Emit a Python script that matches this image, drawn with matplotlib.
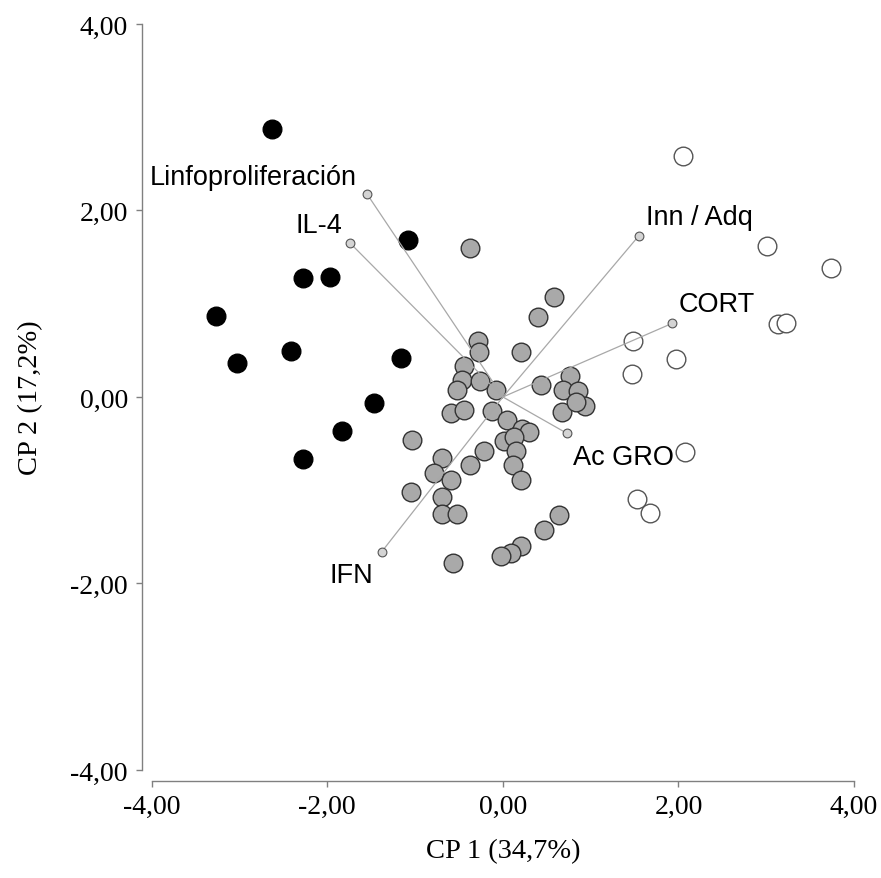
import matplotlib.pyplot as plt

# Grupo 1 (negro)
negro_x = [-2.63, -1.08, -2.28, -1.97, -3.27, -3.03, -2.41, -1.16, -1.47, -1.83, -2.28]
negro_y = [2.87, 1.68, 1.28, 1.29, 0.87, 0.36, 0.49, 0.42, -0.06, -0.36, -0.67]

# Grupo 2 (gris)
gris_x = [-0.37, 0.58, 0.40, -0.28, -0.27, 0.21, -0.44, -0.46, -0.52, -0.26,
          -0.08, 0.43, 0.77, 0.69, 0.86, 0.93, 0.67, 0.83, -0.59, -0.44,
          -0.12, 0.05, 0.22, 0.30, 0.01, 0.13, 0.15, 0.11, 0.21, -1.03,
          -0.69, -0.78, -0.59, -0.38, -0.21, -1.05, -0.69, -0.69, -0.52, 0.64,
          0.47, 0.21, 0.09, -0.02, -0.57]
gris_y = [1.60, 1.07, 0.86, 0.60, 0.48, 0.48, 0.33, 0.18, 0.08, 0.17,
          0.08, 0.13, 0.22, 0.08, 0.06, -0.10, -0.16, -0.05, -0.17, -0.14,
          -0.15, -0.25, -0.34, -0.38, -0.47, -0.43, -0.58, -0.73, -0.89, -0.46,
          -0.65, -0.81, -0.89, -0.73, -0.58, -1.02, -1.07, -1.26, -1.26, -1.27,
          -1.43, -1.60, -1.67, -1.71, -1.78]

# Grupo 3 (blanco)
blanco_x = [2.05, 3.01, 3.74, 3.13, 3.22, 1.48, 1.97, 1.47, 2.08, 1.53, 1.68]
blanco_y = [2.58, 1.62, 1.38, 0.78, 0.79, 0.60, 0.41, 0.25, -0.59, -1.09, -1.24]

# Variables (vectores)
variables = ["Linfoproliferación", "IL-4", "Inn / Adq", "CORT", "Ac GRO", "IFN"]
var_x = [-1.55, -1.74, 1.55, 1.93, 0.73, -1.38]
var_y = [2.18, 1.65, 1.73, 0.79, -0.39, -1.66]
etiq_x = [-4.02, -2.36, 1.63, 2.00, 0.80, -1.97]
etiq_y = [2.28, 1.77, 1.86, 0.92, -0.72, -1.98]

fig = plt.figure(figsize=(8.81, 8.79), dpi=100)
ax = fig.add_axes([0.1722, 0.1229, 0.7972, 0.8487])

ax.scatter(blanco_x, blanco_y, s=180, c='white', edgecolors='#555555', linewidths=1, zorder=2)
ax.scatter(negro_x, negro_y, s=180, c='black', edgecolors='black', linewidths=1, zorder=2)
ax.scatter(gris_x, gris_y, s=180, c='#a9a9a9', edgecolors='#333333', linewidths=1, zorder=2)

for i in range(len(variables)):
    ax.plot([0, var_x[i]], [0, var_y[i]], color='#a8a8a8', lw=0.9, zorder=3)
    ax.text(etiq_x[i], etiq_y[i], variables[i], family='Liberation Sans',
            fontsize=19.5, ha='left', va='baseline', zorder=5)
ax.scatter(var_x, var_y, s=40, c='#d4d4d4', edgecolors='#555555', linewidths=0.8, zorder=4)

ax.set_xlim(-4, 4)
ax.set_ylim(-4, 4)
ticks = [-4, -2, 0, 2, 4]
etiquetas = ["-4,00", "-2,00", "0,00", "2,00", "4,00"]
ax.set_xticks(ticks)
ax.set_xticklabels(etiquetas)
ax.set_yticks(ticks)
ax.set_yticklabels(etiquetas)

for lado in ['top', 'right']:
    ax.spines[lado].set_visible(False)
ax.spines['left'].set_position(('outward', 6.8))
ax.spines['bottom'].set_position(('outward', 7.9))
for lado in ['left', 'bottom']:
    ax.spines[lado].set_color('#808080')
    ax.spines[lado].set_linewidth(1.0)
    ax.spines[lado].set_bounds(-4, 4)

ax.tick_params(axis='both', direction='out', length=4.3, width=1.0, color='#808080',
               labelsize=20, labelfontfamily='Liberation Serif')
ax.tick_params(axis='x', pad=5)
ax.tick_params(axis='y', pad=6)

ax.set_xlabel("CP 1 (34,7%)", family='Liberation Serif', fontsize=20.5, va='center')
ax.xaxis.set_label_coords(0.5, -0.1085)
ax.set_ylabel("CP 2 (17,2%)", family='Liberation Serif', fontsize=20.5, va='center')
ax.yaxis.set_label_coords(-0.1719, 0.5)

fig.savefig("out.png", dpi=100)
